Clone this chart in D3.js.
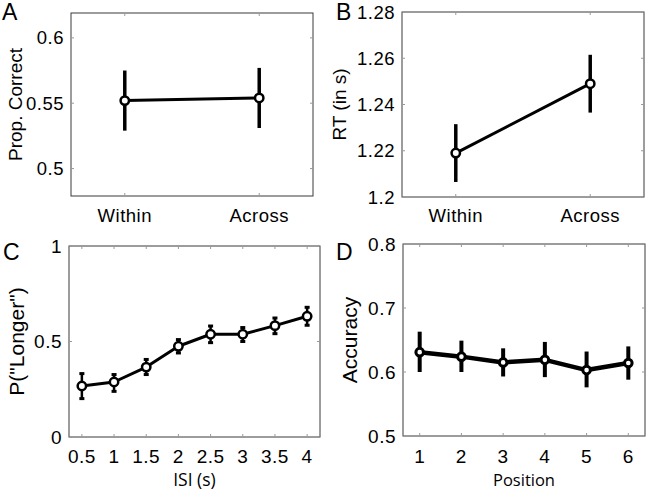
<!DOCTYPE html>
<html><head><meta charset="utf-8">
<script src="https://cdn.jsdelivr.net/npm/d3@7"></script>
<style>body{margin:0;background:#fff}svg{display:block}</style>
</head><body>
<svg id="c" width="649" height="493"></svg>
<script>
// Panel A
const catsAB = ["Within", "Across"];
const aMean = [0.552, 0.554];
const aLow = [0.529, 0.531];
const aHigh = [0.575, 0.577];
const aTicks = [0.5, 0.55, 0.6];
// Panel B
const bMean = [1.219, 1.249];
const bLow = [1.2065, 1.2365];
const bHigh = [1.2315, 1.2615];
const bTicks = [1.2, 1.22, 1.24, 1.26, 1.28];
// Panel C
const isi = [0.5, 1, 1.5, 2, 2.5, 3, 3.5, 4];
const cMean = [0.267, 0.288, 0.366, 0.475, 0.538, 0.538, 0.583, 0.632];
const cLow = [0.201, 0.239, 0.327, 0.44, 0.494, 0.5, 0.541, 0.585];
const cHigh = [0.332, 0.327, 0.406, 0.51, 0.581, 0.573, 0.623, 0.679];
const cYTicks = [0, 0.5, 1];
// Panel D
const pos = [1, 2, 3, 4, 5, 6];
const dMean = [0.631, 0.624, 0.615, 0.619, 0.603, 0.614];
const dLow = [0.600, 0.600, 0.593, 0.592, 0.576, 0.588];
const dHigh = [0.663, 0.649, 0.637, 0.647, 0.632, 0.640];
const dYTicks = [0.5, 0.6, 0.7, 0.8];

const svg = d3.select("#c");
const FONT = "'Liberation Sans', Arial, Helvetica, sans-serif";
const FONT2 = "'Open Sans', 'Noto Sans', sans-serif";

function panel(o) {
  const g = svg.append("g");
  const x = d3.scaleLinear().domain(o.xDomain).range([o.left, o.right]);
  const y = d3.scaleLinear().domain(o.yDomain).range([o.bottom, o.top]);
  g.append("rect").attr("x", o.left).attr("y", o.top)
    .attr("width", o.right - o.left).attr("height", o.bottom - o.top)
    .attr("fill", "none").attr("stroke", "#3a3a3a").attr("stroke-width", 1);
  const tc = "#999";
  o.xTicks.forEach(t => {
    g.append("line").attr("x1", x(t)).attr("x2", x(t)).attr("y1", o.bottom).attr("y2", o.bottom - 3).attr("stroke", tc);
    g.append("line").attr("x1", x(t)).attr("x2", x(t)).attr("y1", o.top).attr("y2", o.top + 3).attr("stroke", tc);
  });
  o.yTicks.forEach(t => {
    g.append("line").attr("x1", o.left).attr("x2", o.left + 3).attr("y1", y(t)).attr("y2", y(t)).attr("stroke", tc);
    g.append("line").attr("x1", o.right).attr("x2", o.right - 3).attr("y1", y(t)).attr("y2", y(t)).attr("stroke", tc);
  });
  g.selectAll(".yl").data(o.yTicks).join("text")
    .attr("x", o.left - 7).attr("y", d => y(d)).attr("dy", "0.36em")
    .attr("text-anchor", "end").attr("font-family", FONT).attr("font-size", o.fs)
    .attr("letter-spacing", 0.5)
    .text(d => o.yFmt(d));
  g.selectAll(".xl").data(o.xTicks).join("text")
    .attr("x", d => x(d)).attr("y", o.xLabY)
    .attr("text-anchor", "middle").attr("font-family", FONT).attr("font-size", o.fs)
    .attr("letter-spacing", 0.5)
    .text((d, i) => o.xFmt(d, i));
  g.append("text").attr("transform", `translate(${o.yTitleX},${(o.top + o.bottom) / 2}) rotate(-90)`)
    .attr("text-anchor", "middle").attr("font-family", FONT).attr("font-size", o.tfs).text(o.yTitle);
  if (o.xTitle) {
    g.append("text").attr("x", (o.left + o.right) / 2).attr("y", o.xTitleY)
      .attr("text-anchor", "middle").attr("font-family", FONT2).attr("font-size", o.xtfs).text(o.xTitle);
  }
  g.append("text").attr("x", o.letterX).attr("y", o.letterY)
    .attr("font-family", FONT).attr("font-size", 23).text(o.letter);
  o.xs.forEach((xv, i) => {
    g.append("line").attr("x1", x(xv)).attr("x2", x(xv))
      .attr("y1", y(o.low[i])).attr("y2", y(o.high[i]))
      .attr("stroke", "#000").attr("stroke-width", o.ebw);
    if (o.cap) {
      [o.low[i], o.high[i]].forEach(v => {
        g.append("line").attr("x1", x(xv) - o.cap).attr("x2", x(xv) + o.cap)
          .attr("y1", y(v)).attr("y2", y(v)).attr("stroke", "#000").attr("stroke-width", 3);
      });
    }
  });
  const line = d3.line().x((d, i) => x(o.xs[i])).y(d => y(d));
  g.append("path").attr("d", line(o.mean)).attr("fill", "none")
    .attr("stroke", "#000").attr("stroke-width", o.lw).attr("stroke-linejoin", "round");
  g.selectAll("circle").data(o.mean).join("circle")
    .attr("cx", (d, i) => x(o.xs[i])).attr("cy", d => y(d)).attr("r", o.r)
    .attr("fill", "#fff").attr("stroke", "#000").attr("stroke-width", o.mw);
}

panel({
  left: 71, right: 313, top: 13, bottom: 196,
  xDomain: [0.6, 2.4], yDomain: [0.479, 0.619],
  xs: [1, 2], xTicks: [1, 2], xFmt: (d, i) => catsAB[i],
  yTicks: aTicks, yFmt: d => d3.format("")(d),
  mean: aMean, low: aLow, high: aHigh,
  fs: 18.5, tfs: 19, xLabY: 222, yTitle: "Prop. Correct", yTitleX: 22,
  letter: "A", letterX: 2, letterY: 20,
  lw: 3, ebw: 3.5, r: 4.2, mw: 2.5
});
panel({
  left: 402, right: 644, top: 12, bottom: 197,
  xDomain: [0.6, 2.4], yDomain: [1.2, 1.28],
  xs: [1, 2], xTicks: [1, 2], xFmt: (d, i) => catsAB[i],
  yTicks: bTicks, yFmt: d => d3.format("")(d),
  mean: bMean, low: bLow, high: bHigh,
  fs: 18.5, tfs: 19, xLabY: 222, yTitle: "RT (in s)", yTitleX: 346,
  letter: "B", letterX: 336, letterY: 20,
  lw: 3, ebw: 3.5, r: 4.2, mw: 2.5
});
panel({
  left: 69, right: 320, top: 246, bottom: 437,
  xDomain: [0.3, 4.2], yDomain: [0, 1],
  xs: isi, xTicks: isi, xFmt: d => d3.format("")(d),
  yTicks: cYTicks, yFmt: d => d3.format("")(d),
  mean: cMean, low: cLow, high: cHigh,
  fs: 19, tfs: 21, xLabY: 463, yTitle: "P(\"Longer\")", yTitleX: 24,
  xTitle: "ISI (s)", xTitleY: 486, xtfs: 17.5,
  letter: "C", letterX: 3, letterY: 260,
  lw: 3, ebw: 2.5, cap: 2.5, r: 4.2, mw: 2.5
});
panel({
  left: 403, right: 645, top: 244, bottom: 436,
  xDomain: [0.6, 6.4], yDomain: [0.5, 0.8],
  xs: pos, xTicks: pos, xFmt: d => d,
  yTicks: dYTicks, yFmt: d => d3.format("")(d),
  mean: dMean, low: dLow, high: dHigh,
  fs: 19, tfs: 21, xLabY: 463, yTitle: "Accuracy", yTitleX: 357,
  xTitle: "Position", xTitleY: 486, xtfs: 16.5,
  letter: "D", letterX: 336, letterY: 260,
  lw: 4.5, ebw: 4, r: 3.8, mw: 3
});
</script>
</body></html>
